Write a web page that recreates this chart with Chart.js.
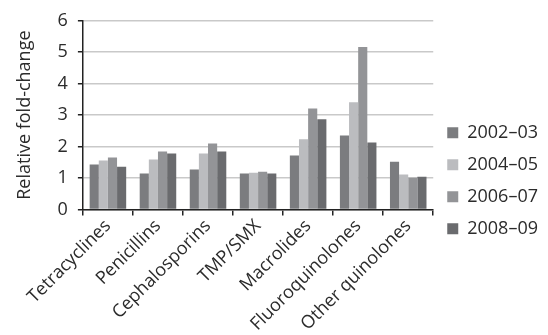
<!DOCTYPE html>
<html>
<head>
<meta charset="utf-8">
<script src="https://cdn.jsdelivr.net/npm/chart.js@4"></script>
<style>
  html, body { margin: 0; padding: 0; background: #ffffff; }
  #wrap { width: 548px; height: 335px; position: relative; }
</style>
</head>
<body>
<div id="wrap"><canvas id="chart" width="548" height="335"></canvas></div>
<script>
// Antibiotic classes on the x axis
const categories = ['Tetracyclines', 'Penicillins', 'Cephalosporins', 'TMP/SMX',
                    'Macrolides', 'Fluoroquinolones', 'Other quinolones'];

// Relative fold-change per period
const period2002 = [1.43, 1.14, 1.27, 1.14, 1.72, 2.35, 1.52];
const period2004 = [1.56, 1.59, 1.78, 1.17, 2.23, 3.41, 1.11];
const period2006 = [1.65, 1.84, 2.10, 1.20, 3.21, 5.17, 1.01];
const period2008 = [1.36, 1.78, 1.84, 1.14, 2.87, 2.13, 1.04];

const seriesLabels = ['2002\u201303', '2004\u201305', '2006\u201307', '2008\u201309'];
const yTicks = [0, 1, 2, 3, 4, 5, 6];

const colors = ['#7b7c7f', '#bbbcbf', '#939497', '#6a6b6e'];
const FONT = "'Open Sans', 'DejaVu Sans', sans-serif";
const TEXT = '#2b2b2b';

const seriesValues = [period2002, period2004, period2006, period2008];

new Chart(document.getElementById('chart'), {
  type: 'bar',
  data: {
    labels: categories,
    datasets: seriesValues.map((vals, i) => ({
      label: seriesLabels[i],
      data: vals,
      backgroundColor: colors[i],
      borderWidth: 0,
      barPercentage: 1.0,
      categoryPercentage: 0.73
    }))
  },
  options: {
    responsive: false,
    animation: false,
    devicePixelRatio: 1,
    layout: { padding: { top: 12, right: 0, bottom: 0, left: 14 } },
    plugins: {
      tooltip: { enabled: false },
      legend: {
        position: 'right',
        align: 'center',
        // blank title nudges the key a little below the vertical middle
        title: { display: true, text: ' ', font: { size: 2 }, padding: { top: 0, bottom: 12 } },
        labels: {
          boxWidth: 11,
          boxHeight: 11,
          padding: 14,
          color: TEXT,
          font: { family: FONT, size: 18 }
        }
      }
    },
    scales: {
      x: {
        offset: true,
        border: { display: true, color: '#222', width: 1.5 },
        grid: {
          display: true,
          offset: true,
          drawOnChartArea: false,
          drawTicks: true,
          tickLength: 6,
          tickColor: '#222',
          lineWidth: 1.5
        },
        ticks: {
          color: TEXT,
          font: { family: FONT, size: 18 },
          minRotation: 45,
          maxRotation: 45,
          padding: 0,
          autoSkip: false
        }
      },
      y: {
        min: 0,
        max: 6,
        afterBuildTicks: axis => { axis.ticks = yTicks.map(v => ({ value: v })); },
        border: { display: true, color: '#222', width: 1.5 },
        grid: {
          color: '#c9c9c9',
          lineWidth: 1.5,
          drawTicks: true,
          tickLength: 5,
          tickColor: '#222'
        },
        ticks: {
          color: TEXT,
          font: { family: FONT, size: 18 },
          padding: 10
        },
        title: {
          display: true,
          text: 'Relative fold-change',
          color: TEXT,
          font: { family: FONT, size: 18 },
          padding: { top: 0, bottom: 12 }
        }
      }
    }
  }
});
</script>
</body>
</html>
